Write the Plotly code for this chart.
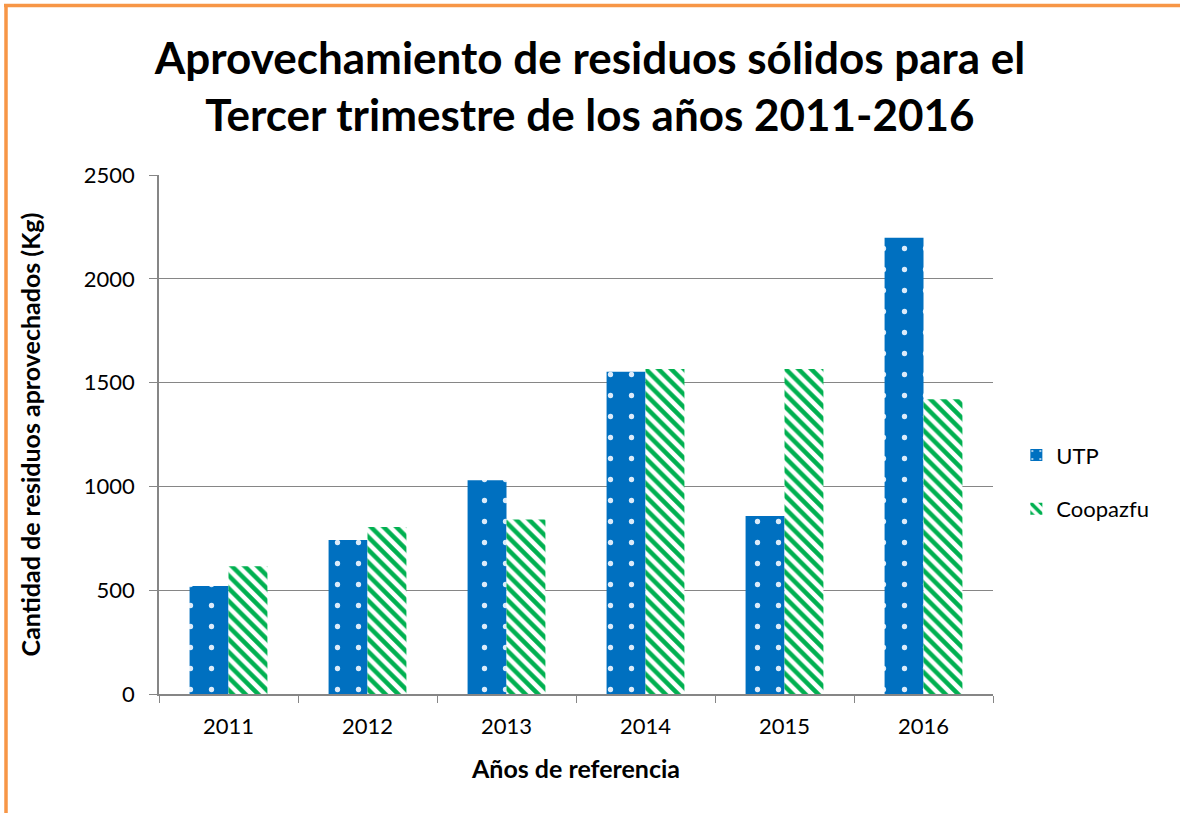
import plotly.graph_objects as go

years = ["2011", "2012", "2013", "2014", "2015", "2016"]
utp = [520, 742, 1030, 1552, 858, 2198]
coopazfu = [615, 805, 840, 1565, 1565, 1420]

FONT = "Lato"

fig = go.Figure()

fig.add_trace(go.Bar(
    x=years, y=utp, name="UTP", legendgroup="a",
    marker=dict(color="#0070C0", line=dict(width=0),
                pattern=dict(shape=".", bgcolor="#0070C0", fgcolor="#DCEBFA",
                             size=21, solidity=0.05, fillmode="replace")),
))
fig.add_trace(go.Bar(
    x=years, y=coopazfu, name="Coopazfu", legendgroup="b",
    marker=dict(color="#00B050", line=dict(width=0),
                pattern=dict(shape="\\", bgcolor="#FFFFFF", fgcolor="#00B050",
                             size=9, solidity=0.5, fillmode="replace")),
))

fig.update_layout(
    width=1180, height=813,
    paper_bgcolor="white", plot_bgcolor="white",
    font=dict(family=FONT, size=22, color="black"),
    title=dict(
        text="<b>Aprovechamiento de residuos sólidos para el<br>Tercer trimestre de los años 2011-2016</b>",
        x=0.5, xanchor="center", y=1 - 74 / 813, yanchor="top",
        font=dict(family=FONT, size=44, color="black"),
    ),
    margin=dict(l=159, r=187, t=175, b=119),
    barmode="group", bargap=0.44, bargroupgap=0,
    showlegend=True,
    legend=dict(x=1.028, y=0.408, xanchor="left", yanchor="middle",
                font=dict(size=22), tracegroupgap=22, bgcolor="rgba(0,0,0,0)"),
    xaxis=dict(
        type="category", tickson="boundaries", ticks="outside", ticklen=7,
        tickcolor="#868686", showline=True, linecolor="#868686", linewidth=1.5,
        showgrid=False, ticklabelstandoff=12,
        title=dict(text="<b>Años de referencia</b>", font=dict(size=25), standoff=22),
    ),
    yaxis=dict(
        range=[0, 2500], dtick=500, ticks="outside", ticklen=8,
        tickcolor="#868686", showline=True, linecolor="#868686", linewidth=1.5,
        showgrid=True, gridcolor="#868686", gridwidth=1.2, zeroline=False,
        ticklabelstandoff=10,
        title=dict(text="<b>Cantidad de residuos aprovechados (Kg)</b>", font=dict(size=25), standoff=36),
    ),
)

# orange frame (top and left edges of the original slide box)
px_x = lambda p: (p - 159) / 834
px_y = lambda p: (694 - p) / 519
fig.add_shape(type="line", xref="paper", yref="paper",
              x0=px_x(4), x1=px_x(1185), y0=px_y(5.5), y1=px_y(5.5),
              line=dict(color="#F79646", width=3.5))
fig.add_shape(type="line", xref="paper", yref="paper",
              x0=px_x(6), x1=px_x(6), y0=px_y(4), y1=px_y(820),
              line=dict(color="#F79646", width=3.5))

fig.write_html("out.html", config={"displayModeBar": False},
               post_script="document.body.style.margin='0';")
